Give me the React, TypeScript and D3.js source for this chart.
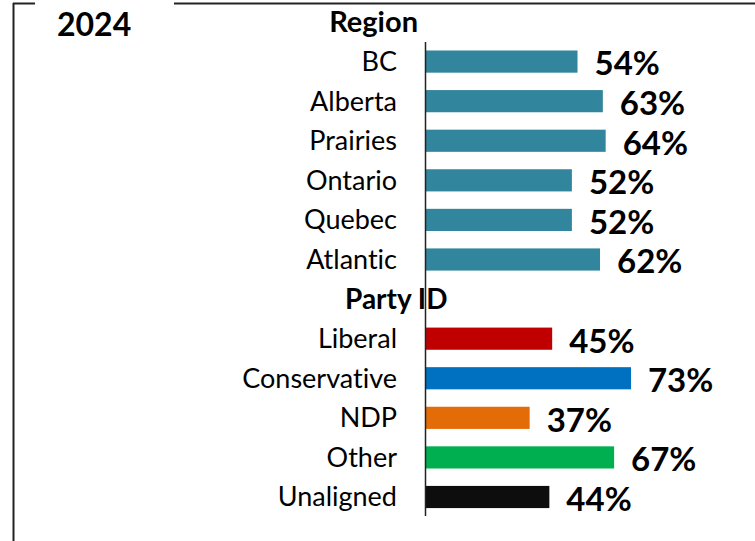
import React from "react";
import * as d3 from "d3";

const title = "2024";
const categories = ["Region", "BC", "Alberta", "Prairies", "Ontario", "Quebec", "Atlantic", "Party ID", "Liberal", "Conservative", "NDP", "Other", "Unaligned"];
const headers = ["Region", "Party ID"];
const values: (number | null)[] = [null, 0.54, 0.63, 0.64, 0.52, 0.52, 0.62, null, 0.45, 0.73, 0.37, 0.67, 0.44];
const colors = ["", "#31859C", "#31859C", "#31859C", "#31859C", "#31859C", "#31859C", "", "#C00000", "#0070C0", "#E36C09", "#00B050", "#0D0D0D"];

const W = 755;
const H = 541;
const axisX = 425.5;
const FONT = "Lato, 'Open Sans', sans-serif";

export default function App() {
  const x = d3.scaleLinear().domain([0, 1]).range([axisX, axisX + 281.5]);
  const y = d3.scalePoint<string>().domain(categories).range([22, 497]);
  const step = y.step();
  const barH = step * 0.56;
  const fmt = d3.format(".0%");

  return (
    <svg width={W} height={H} style={{ position: "absolute", left: 0, top: 0, background: "#fff", fontVariantLigatures: "none" }} fontFamily={FONT}>
      {/* frame */}
      <line x1={13.5} y1={3} x2={13.5} y2={H} stroke="#222" strokeWidth={2} />
      <line x1={13} y1={3.5} x2={35} y2={3.5} stroke="#222" strokeWidth={2} />
      <line x1={174} y1={3.5} x2={W} y2={3.5} stroke="#222" strokeWidth={2} />
      <text x={57} y={36} fontSize={32} fontWeight={700} fill="#000">{title}</text>

      {categories.map((c, i) => {
        const cy = y(c)!;
        const v = values[i];
        if (headers.includes(c)) {
          return (
            <text key={c} x={c === "Region" ? 418 : 345} y={cy} dy="0.35em" fontSize={c === "Region" ? 29 : 28} fontWeight={700} textAnchor={c === "Region" ? "end" : "start"} fill="#000">{c}</text>
          );
        }
        return (
          <g key={c}>
            <text x={397} y={cy} dy="0.35em" fontSize={27} textAnchor="end" fill="#000">{c}</text>
            {v !== null && (
              <>
                <rect x={x(0)} y={cy - barH / 2} width={x(v) - x(0)} height={barH} fill={colors[i]} />
                <text x={x(v) + 17} y={cy + 2} dy="0.36em" fontSize={33} fontWeight={700} fill="#000">{fmt(v)}</text>
              </>
            )}
          </g>
        );
      })}
      <line x1={axisX} y1={42} x2={axisX} y2={516} stroke="#222" strokeWidth={1.5} />
    </svg>
  );
}
